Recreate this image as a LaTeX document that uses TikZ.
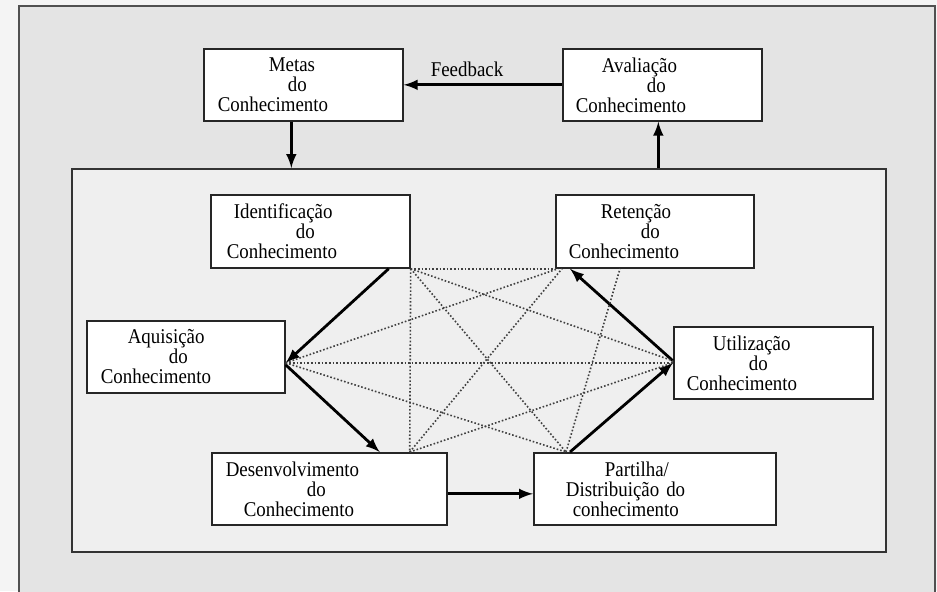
\documentclass[tikz,border=0pt]{standalone}
\usepackage{fontspec}
\setmainfont{Liberation Serif}[FakeStretch=0.9]
\usetikzlibrary{arrows}
\definecolor{fundo}{HTML}{F4F4F4}
\definecolor{moldura}{HTML}{E4E4E4}
\definecolor{ciclofundo}{HTML}{EFEFEF}
\definecolor{borda}{HTML}{505050}

\begin{document}
\begin{tikzpicture}[x=0.5pt, y=-0.5pt, >=latex,
    etapa/.style={draw=black!85, line width=0.85pt, fill=white, anchor=north west, text width=#1, minimum height=36pt, inner xsep=0pt, inner ysep=0pt, align=left, font=\fontsize{10.5}{10}\selectfont},
    fluxo/.style={->, line width=1.4pt},
    ligacao/.style={densely dotted, line width=0.8pt, black!75}]
    \useasboundingbox (0,0) rectangle (937,591);
    \fill[fundo] (0,0) rectangle (937,591);
    \draw[borda, line width=1pt, fill=moldura] (19,6) rectangle (935,600);

    \node[draw=black!80, line width=1pt, fill=ciclofundo, anchor=north west, minimum width=407pt, minimum height=191.5pt, inner sep=0pt] (ciclo) at (71,168) {};

    \node[etapa=99.5pt] (metas) at (203,48) {\hspace*{32.5pt}Metas\\\hspace*{42pt}do\\\hspace*{7pt}Conhecimento};
    \node[etapa=99.5pt] (aval) at (562,48) {\hspace*{19.5pt}Avaliação\\\hspace*{42pt}do\\\hspace*{6.5pt}Conhecimento};

    \node[etapa=99.5pt, minimum height=36.5pt] (ident) at (210,194) {\hspace*{11.5pt}Identificação\\\hspace*{42.5pt}do\\\hspace*{8pt}Conhecimento};
    \node[etapa=99pt, minimum height=36.5pt] (reten) at (555,194) {\hspace*{22.5pt}Retenção\\\hspace*{42.5pt}do\\\hspace*{6.5pt}Conhecimento};
    \node[etapa=99pt] (aquis) at (86,320) {\hspace*{20.5pt}Aquisição\\\hspace*{41pt}do\\\hspace*{7pt}Conhecimento};
    \node[etapa=99.5pt] (util) at (673,326) {\hspace*{19.5pt}Utilização\\\hspace*{37.5pt}do\\\hspace*{6.5pt}Conhecimento};
    \node[etapa=117.5pt] (desen) at (211,452) {\hspace*{7pt}Desenvolvimento\\\hspace*{47.5pt}do\\\hspace*{16pt}Conhecimento};
    \node[etapa=121pt] (part) at (533,452) {\hspace*{35.5pt}Partilha/\\\hspace*{16pt}Distribuição do\\\hspace*{19.5pt}conhecimento};

    % ciclo externo
    \draw[fluxo] (aval.west) -- node[above, pos=0.6, font=\fontsize{10.5}{10}\selectfont] (retro) {Feedback} (metas.east);
    \coordinate (desce) at ([xshift=-6pt]metas.south);
    \coordinate (sobe) at ([xshift=-2pt]aval.south);
    \draw[fluxo] (desce) -- (desce |- ciclo.north);
    \draw[fluxo] (sobe |- ciclo.north) -- (sobe);

    % ciclo interno
    \draw[fluxo] ([xshift=-11pt]ident.south east) -- ([yshift=-3pt]aquis.east);
    \draw[fluxo] ([yshift=-4pt]aquis.east) -- ([xshift=-34pt]desen.north east);
    \draw[fluxo] ([yshift=-2.5pt]desen.east) -- ([yshift=-2.5pt]part.west);
    \draw[fluxo] ([xshift=18.5pt]part.north west) -- (util.west);
    \draw[fluxo] ([yshift=1pt]util.west) -- ([xshift=7.5pt]reten.south west);

    % ligacoes pontilhadas
    \draw[ligacao] (ident.south east) -- (reten.south west);
    \draw[ligacao] (ident.south east) -- ([yshift=1pt]util.west);
    \draw[ligacao] (ident.south east) -- ([xshift=16.5pt]part.north west);
    \draw[ligacao] (ident.south east) -- ([xshift=-19pt]desen.north east);
    \draw[ligacao] ([yshift=-3pt]aquis.east) -- ([xshift=1.5pt]reten.south west);
    \draw[ligacao] ([yshift=-3pt]aquis.east) -- (util.west);
    \draw[ligacao] ([yshift=-3pt]aquis.east) -- ([xshift=16.5pt]part.north west);
    \draw[ligacao] ([xshift=-19pt]desen.north east) -- ([xshift=3.5pt]reten.south west);
    \draw[ligacao] ([xshift=-19pt]desen.north east) -- (util.west);
    \draw[ligacao] ([xshift=16.5pt]part.north west) -- ([xshift=32.5pt]reten.south west);
\end{tikzpicture}
\end{document}
